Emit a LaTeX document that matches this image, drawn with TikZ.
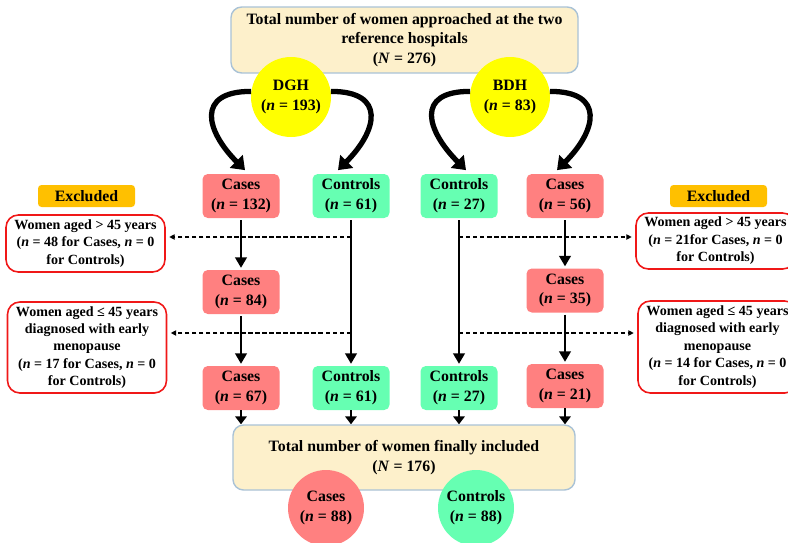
\documentclass[tikz,border=0pt]{standalone}
\usepackage{fontspec}
\setmainfont{Liberation Serif}
\usetikzlibrary{arrows.meta}

\definecolor{boxfill}{HTML}{FDF0CB}
\definecolor{boxline}{HTML}{A9C2D6}
\definecolor{hospfill}{HTML}{FFFF00}
\definecolor{casefill}{HTML}{FF8080}
\definecolor{ctrlfill}{HTML}{66FFB2}
\definecolor{exclfill}{HTML}{FFC000}
\definecolor{exclline}{HTML}{F01818}

\begin{document}
\begin{tikzpicture}[
        every node/.style={font=\fontsize{9}{11.3}\selectfont\bfseries, align=center},
        total/.style={draw=boxline, fill=boxfill, rounded corners=6pt, line width=0.8pt, minimum width=6.94cm, minimum height=1.28cm},
        hospital/.style={circle, fill=hospfill, minimum size=1.6cm, inner sep=0pt},
        casebox/.style={fill=casefill, rounded corners=3pt, minimum width=1.54cm, minimum height=0.88cm, inner sep=1pt},
        ctrlbox/.style={casebox, fill=ctrlfill},
        sumcircle/.style={circle, minimum size=1.52cm, inner sep=0pt},
        excltag/.style={fill=exclfill, rounded corners=2pt, minimum width=1.94cm, minimum height=0.44cm, inner sep=0pt},
        exclbox/.style={draw=exclline, line width=0.9pt, rounded corners=7pt, fill=white, minimum width=3.18cm, inner sep=1pt, font=\fontsize{8}{9.9}\selectfont\bfseries},
        flow/.style={line width=1.6pt, -{Triangle[length=6pt,width=6.5pt]}, shorten <=1pt, shorten >=1pt},
        lastflow/.style={line width=1.6pt, -{Triangle[length=4.5pt,width=6.5pt]}},
        hosparrow/.style={line width=3pt, -{Triangle[length=7pt,width=10pt]}, looseness=1.8},
        cut/.style={line width=0.6pt, dash pattern=on 2.5pt off 1.5pt, -{Triangle[length=3pt,width=3pt]}, shorten >=2pt}
    ]
        \useasboundingbox (0,0) rectangle (15.76,10.84);

        \node[total] (start) at (8.09,10.04) {Total number of women approached at the two\\reference hospitals\\(\textit{N} = 276)};
        \node[hospital] (dgh) at (5.82,8.90) {DGH\\(\textit{n} = 193)};
        \node[hospital] (bdh) at (10.20,8.90) {BDH\\(\textit{n} = 83)};

        % first split
        \node[casebox] (casD1) at (4.82,6.92) {Cases\\(\textit{n} = 132)};
        \node[ctrlbox] (ctlD1) at (7.02,6.92) {Controls\\(\textit{n} = 61)};
        \node[ctrlbox] (ctlB1) at (9.18,6.92) {Controls\\(\textit{n} = 27)};
        \node[casebox] (casB1) at (11.30,6.92) {Cases\\(\textit{n} = 56)};

        \node[casebox] (casD2) at (4.82,5.00) {Cases\\(\textit{n} = 84)};
        \node[casebox] (casB2) at (11.30,5.03) {Cases\\(\textit{n} = 35)};

        \node[casebox] (casD3) at (4.82,3.08) {Cases\\(\textit{n} = 67)};
        \node[ctrlbox] (ctlD3) at (7.02,3.08) {Controls\\(\textit{n} = 61)};
        \node[ctrlbox] (ctlB3) at (9.18,3.08) {Controls\\(\textit{n} = 27)};
        \node[casebox] (casB3) at (11.30,3.12) {Cases\\(\textit{n} = 21)};

        \node[total, minimum width=6.84cm, minimum height=1.3cm] (final) at (8.08,1.69) {Total number of women finally included\\(\textit{N} = 176)};
        \node[sumcircle, fill=casefill] (casSum) at (6.52,0.68) {Cases\\(\textit{n} = 88)};
        \node[sumcircle, fill=ctrlfill] (ctlSum) at (9.52,0.68) {Controls\\(\textit{n} = 88)};

        % exclusions
        \node[excltag] (tagL) at (1.73,6.92) {Excluded};
        \node[excltag] (tagR) at (14.37,6.92) {Excluded};
        \node[exclbox, minimum height=1.14cm] (exA) at (1.71,5.97) {Women aged > 45 years\\(\textit{n} = 48 for Cases, \textit{n} = 0\\for Controls)};
        \node[exclbox, minimum height=1.82cm] (exB) at (1.74,3.89) {Women aged ≤ 45 years\\diagnosed with early\\menopause\\(\textit{n} = 17 for Cases, \textit{n} = 0\\for Controls)};
        \node[exclbox, minimum height=1.12cm] (exC) at (14.31,6.02) {Women aged > 45 years\\(\textit{n} = 21for Cases, \textit{n} = 0\\for Controls)};
        \node[exclbox, minimum height=1.84cm] (exD) at (14.35,3.90) {Women aged ≤ 45 years\\diagnosed with early\\menopause\\(\textit{n} = 14 for Cases, \textit{n} = 0\\for Controls)};

        \draw[hosparrow] (dgh.172) to[out=180, in=135] ([xshift=0.08cm, yshift=2pt]casD1.north);
        \draw[hosparrow] (dgh.8) to[out=0, in=45] ([xshift=-0.26cm, yshift=2pt]ctlD1.north);
        \draw[hosparrow] (bdh.172) to[out=180, in=135] ([xshift=0.14cm, yshift=2pt]ctlB1.north);
        \draw[hosparrow] (bdh.8) to[out=0, in=45] ([xshift=-0.16cm, yshift=2pt]casB1.north);

        \draw[flow] (casD1) -- (casD2);
        \draw[flow] (casD2) -- (casD3);
        \draw[flow] (ctlD1) -- (ctlD3);
        \draw[flow] (ctlB1) -- (ctlB3);
        \draw[flow] (casB1) -- (casB2);
        \draw[flow] (casB2) -- (casB3);

        \draw[lastflow] (casD3) -- (casD3 |- final.north);
        \draw[lastflow] (ctlD3) -- (ctlD3 |- final.north);
        \draw[lastflow] (ctlB3) -- (ctlB3 |- final.north);
        \draw[lastflow] (casB3) -- (casB3 |- final.north);

        \coordinate (cutA) at (7.02,6.10);
        \coordinate (cutB) at (7.02,4.18);
        \coordinate (cutC) at (9.18,6.10);
        \coordinate (cutD) at (9.18,4.18);
        \draw[cut] (cutA) -- (cutA -| exA.east);
        \draw[cut] (cutB) -- (cutB -| exB.east);
        \draw[cut] (cutC) -- (cutC -| exC.west);
        \draw[cut] (cutD) -- (cutD -| exD.west);
    \end{tikzpicture}
\end{document}
